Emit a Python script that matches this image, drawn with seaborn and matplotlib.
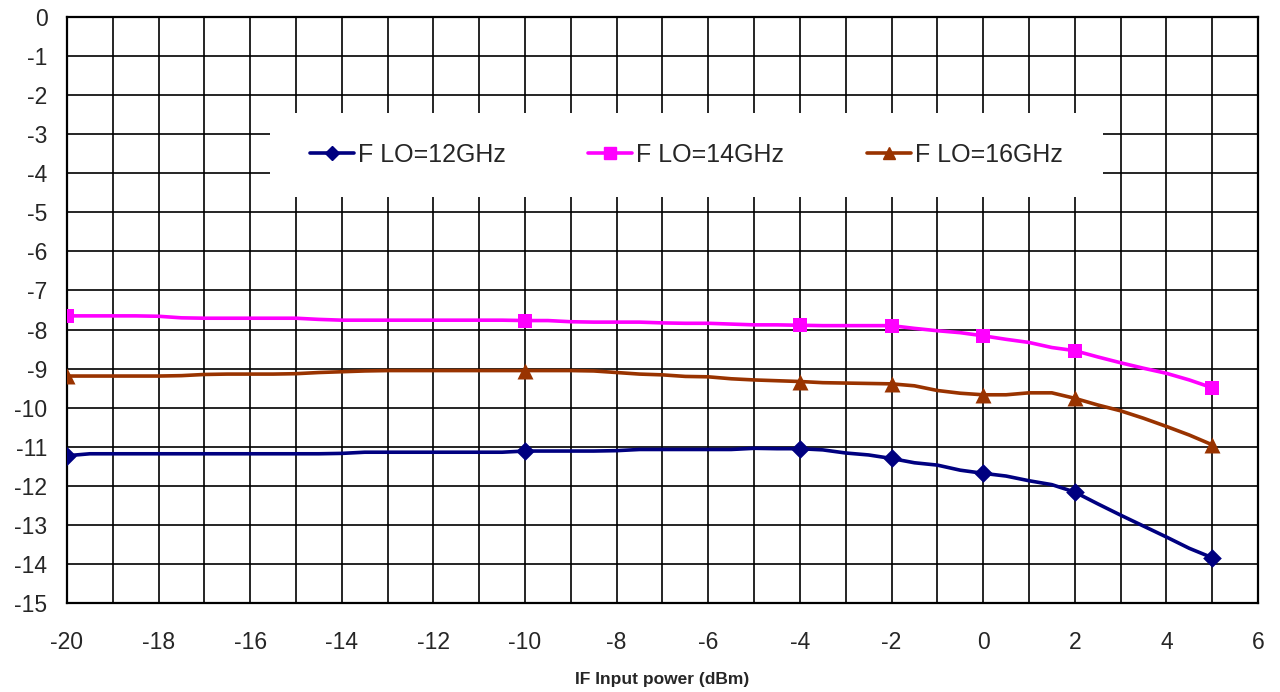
"""
Conversion loss vs IF input power, three LO frequencies (seaborn).
"""

import matplotlib
matplotlib.use("Agg")
import matplotlib.pyplot as plt
from matplotlib.lines import Line2D
from matplotlib.patches import Rectangle
import pandas as pd
import seaborn as sns

# IF input power (dBm)
if_power = [-20, -19.5, -19, -18.5, -18, -17.5, -17, -16.5, -16, -15.5,
            -15, -14.5, -14, -13.5, -13, -12.5, -12, -11.5, -11, -10.5,
            -10, -9.5, -9, -8.5, -8, -7.5, -7, -6.5, -6, -5.5,
            -5, -4.5, -4, -3.5, -3, -2.5, -2, -1.5, -1, -0.5,
            0, 0.5, 1, 1.5, 2, 2.5, 3, 3.5, 4, 4.5, 5]

lo_12 = [-11.23, -11.18, -11.18, -11.18, -11.18, -11.18, -11.18, -11.18, -11.18, -11.18,
         -11.18, -11.18, -11.17, -11.14, -11.14, -11.14, -11.14, -11.14, -11.14, -11.14,
         -11.11, -11.11, -11.11, -11.11, -11.10, -11.07, -11.07, -11.07, -11.07, -11.07,
         -11.04, -11.05, -11.05, -11.08, -11.16, -11.21, -11.30, -11.41, -11.47, -11.60,
         -11.68, -11.75, -11.87, -11.97, -12.16, -12.46, -12.75, -13.03, -13.31, -13.60, -13.84]

lo_14 = [-7.65, -7.65, -7.65, -7.65, -7.66, -7.70, -7.71, -7.71, -7.71, -7.71,
         -7.71, -7.74, -7.76, -7.76, -7.76, -7.76, -7.76, -7.76, -7.76, -7.76,
         -7.77, -7.77, -7.80, -7.81, -7.81, -7.81, -7.83, -7.84, -7.84, -7.86,
         -7.88, -7.88, -7.89, -7.90, -7.90, -7.90, -7.90, -7.97, -8.03, -8.08,
         -8.16, -8.25, -8.33, -8.46, -8.54, -8.70, -8.85, -8.99, -9.12, -9.29, -9.49]

lo_16 = [-9.19, -9.19, -9.19, -9.19, -9.19, -9.18, -9.15, -9.14, -9.14, -9.14,
         -9.13, -9.10, -9.08, -9.06, -9.05, -9.05, -9.05, -9.05, -9.05, -9.05,
         -9.05, -9.05, -9.05, -9.06, -9.10, -9.14, -9.16, -9.20, -9.21, -9.26,
         -9.29, -9.31, -9.33, -9.36, -9.37, -9.38, -9.39, -9.44, -9.56, -9.63,
         -9.67, -9.67, -9.62, -9.62, -9.76, -9.93, -10.08, -10.27, -10.48, -10.70, -10.95]

# points that carry a marker
marked_power = [-20, -10, -4, -2, 0, 2, 5]

labels = ["F LO=12GHz", "F LO=14GHz", "F LO=16GHz"]
colors = {"F LO=12GHz": "#000080", "F LO=14GHz": "#FF00FF", "F LO=16GHz": "#993300"}
markers = {"F LO=12GHz": "D", "F LO=14GHz": "s", "F LO=16GHz": "^"}
msize = {"F LO=12GHz": 9.5, "F LO=14GHz": 10, "F LO=16GHz": 11.5}

frames = []
for lab, vals in zip(labels, [lo_12, lo_14, lo_16]):
    frames.append(pd.DataFrame({"power": if_power, "loss": vals, "serie": lab}))
df = pd.concat(frames, ignore_index=True)
df_mark = df[df["power"].isin(marked_power)]

sns.set_style("white")
plt.rcParams["font.family"] = ["Liberation Sans", "DejaVu Sans"]
plt.rcParams["axes.unicode_minus"] = False

fig = plt.figure(figsize=(12.8, 6.92), dpi=100)
ax = fig.add_axes([0.0523, 0.1286, 0.9305, 0.8468])

sns.lineplot(data=df, x="power", y="loss", hue="serie", palette=colors,
             linewidth=2.6, legend=False, ax=ax, zorder=3)
for lab in labels:
    sub = df_mark[df_mark["serie"] == lab]
    sns.scatterplot(data=sub, x="power", y="loss", color=colors[lab],
                    marker=markers[lab], s=msize[lab] ** 2, linewidth=0,
                    legend=False, ax=ax, zorder=4)

ax.set_xlim(-20, 6)
ax.set_ylim(-15, 0)
ax.set_xticks(range(-20, 7, 2))
ax.set_xticks(range(-20, 7), minor=True)
ax.set_yticks(range(-15, 1))
ax.grid(which="both", color="black", linewidth=1.2)
ax.tick_params(which="both", length=0, labelsize=16.5)
ax.tick_params(axis="y", pad=14)
ax.tick_params(axis="x", pad=20)
for sp in ax.spines.values():
    sp.set_color("black")
    sp.set_linewidth(1.6)

ax.set_xlabel("IF Input power (dBm)", fontsize=12.5, fontweight="bold", labelpad=13)
ax.set_ylabel("")

# white legend panel
ax.add_patch(Rectangle((0.1704, 0.6928), 0.6994, 0.1433, transform=ax.transAxes,
                       facecolor="white", edgecolor="none", zorder=2.6))
handles = [Line2D([], [], color=colors[l], marker=markers[l], markersize=msize[l] * 0.8,
                  linewidth=2.6) for l in labels]
ax.legend(handles, labels, loc="center", bbox_to_anchor=(0.520, 0.7645), ncol=3,
          frameon=False, fontsize=18, handlelength=1.76, handletextpad=0.16,
          columnspacing=3.3)

fig.savefig("out.png", dpi=100)
